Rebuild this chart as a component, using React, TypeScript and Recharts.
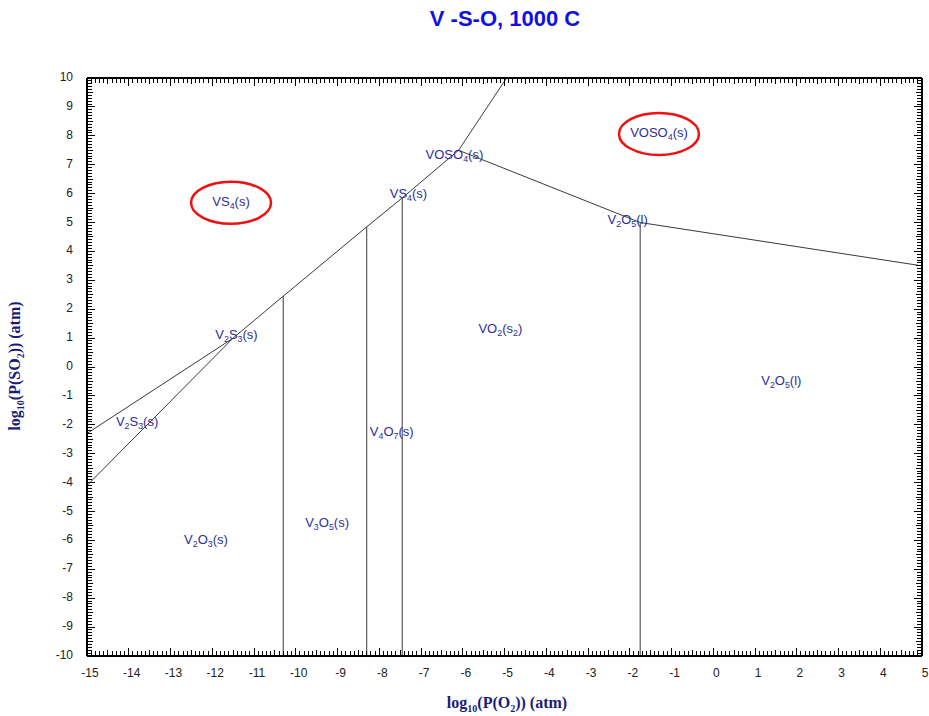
import { ComposedChart, Line, Scatter, XAxis, YAxis } from "recharts";

// axis labels
const xMajorTicks = [-15, -14, -13, -12, -11, -10, -9, -8, -7, -6, -5, -4, -3, -2, -1, 0, 1, 2, 3, 4, 5];
const yMajorTicks = [-10, -9, -8, -7, -6, -5, -4, -3, -2, -1, 0, 1, 2, 3, 4, 5, 6, 7, 8, 9, 10];

// minor ticks every 0.1 between the majors
const withMinor = (lo: number, hi: number) => {
  const out: number[] = [];
  for (let i = 0; i <= (hi - lo) * 10; i++) out.push(Math.round((lo + i * 0.1) * 10) / 10);
  return out;
};
const xTicks = withMinor(xMajorTicks[0], xMajorTicks[xMajorTicks.length - 1]);
const yTicks = withMinor(yMajorTicks[0], yMajorTicks[yMajorTicks.length - 1]);

// phase boundaries, log10 P(O2) vs log10 P(SO2)
const sulfideUpper = [{ x: -15, y: -2.3 }, { x: -11.5, y: 1.0 }];
const sulfideLower = [{ x: -15, y: -4.1 }, { x: -11.5, y: 1.0 }];
const sulfideOxide = [
  { x: -11.5, y: 1.0 },
  { x: -10.3, y: 2.45 },
  { x: -8.3, y: 4.85 },
  { x: -7.45, y: 5.85 },
  { x: -6.1, y: 7.5 },
  { x: -4.95, y: 10 },
];
const sulfateEdge = [
  { x: -6.1, y: 7.5 },
  { x: -1.75, y: 5.0 },
  { x: 5, y: 3.5 },
];
const v2o3Edge = [{ x: -10.3, y: -10 }, { x: -10.3, y: 2.45 }];
const v3o5Edge = [{ x: -8.3, y: -10 }, { x: -8.3, y: 4.85 }];
const v4o7Edge = [{ x: -7.45, y: -10 }, { x: -7.45, y: 5.85 }];
const vo2Edge = [{ x: -1.75, y: -10 }, { x: -1.75, y: 5.0 }];

const boundaries = [sulfideUpper, sulfideLower, sulfideOxide, sulfateEdge, v2o3Edge, v3o5Edge, v4o7Edge, vo2Edge];

// field labels (digits drawn as subscripts)
const regionLabels = [
  { x: -11.55, y: 5.72, text: "VS4(s)", circled: true },
  { x: -1.3, y: 8.1, text: "VOSO4(s)", circled: true },
  { x: -6.2, y: 7.35, text: "VOSO4(s)", circled: false },
  { x: -7.3, y: 6.0, text: "VS4(s)", circled: false },
  { x: -2.05, y: 5.1, text: "V2O5(l)", circled: false },
  { x: -11.42, y: 1.1, text: "V2S3(s)", circled: false },
  { x: -13.8, y: -1.9, text: "V2S3(s)", circled: false },
  { x: -5.1, y: 1.3, text: "VO2(s2)", circled: false },
  { x: 1.63, y: -0.5, text: "V2O5(l)", circled: false },
  { x: -7.7, y: -2.25, text: "V4O7(s)", circled: false },
  { x: -9.25, y: -5.4, text: "V3O5(s)", circled: false },
  { x: -12.15, y: -6.0, text: "V2O3(s)", circled: false },
];

const isMajor = (v: number) => Math.abs(v - Math.round(v)) < 1e-6;
const isHalf = (v: number) => Math.abs(v * 2 - Math.round(v * 2)) < 1e-6;
const tickLen = (v: number) => (isMajor(v) ? 8 : isHalf(v) ? 6 : 5);
const labelFont = "Arial, 'Liberation Sans', sans-serif";
const serifFont = "'Liberation Serif', 'Times New Roman', serif";

const BottomTick = (props: any) => {
  const { x, y, payload } = props;
  const v = payload.value;
  return (
    <g>
      <line x1={x} x2={x} y1={y} y2={y - tickLen(v)} stroke="#000" strokeWidth={1} shapeRendering="crispEdges" />
      {isMajor(v) && (
        <text x={x + 3} y={y + 21} textAnchor="middle" fontSize={12} fontFamily={labelFont} fill="#222">
          {Math.round(v)}
        </text>
      )}
    </g>
  );
};

const TopTick = (props: any) => {
  const { x, y, payload } = props;
  return (
    <line x1={x} x2={x} y1={y} y2={y + tickLen(payload.value)} stroke="#000" strokeWidth={1} shapeRendering="crispEdges" />
  );
};

const LeftTick = (props: any) => {
  const { x, y, payload } = props;
  const v = payload.value;
  return (
    <g>
      <line x1={x} x2={x + tickLen(v)} y1={y} y2={y} stroke="#000" strokeWidth={1} shapeRendering="crispEdges" />
      {isMajor(v) && (
        <text x={x - 14} y={y + 3} textAnchor="end" fontSize={12} fontFamily={labelFont} fill="#222">
          {Math.round(v)}
        </text>
      )}
    </g>
  );
};

const RightTick = (props: any) => {
  const { x, y, payload } = props;
  return (
    <line x1={x} x2={x - tickLen(payload.value)} y1={y} y2={y} stroke="#000" strokeWidth={1} shapeRendering="crispEdges" />
  );
};

const Formula = ({ text, x, y, size }: { text: string; x: number; y: number; size: number }) => {
  const parts = text.split(/(\d+)/).filter((p) => p.length > 0);
  let shifted = false;
  return (
    <text x={x} y={y} textAnchor="middle" fontFamily={labelFont} fontSize={size} fill="#2e2e98">
      {parts.map((p, i) => {
        const sub = /^\d+$/.test(p);
        const dy = sub ? (shifted ? 0 : 3) : shifted ? -3 : 0;
        shifted = sub;
        return (
          <tspan key={i} dy={dy} fontSize={sub ? size * 0.68 : size}>
            {p}
          </tspan>
        );
      })}
    </text>
  );
};

const RegionLabel = (props: any) => {
  const { cx, cy, payload } = props;
  return (
    <g>
      {payload.circled && <ellipse cx={cx} cy={cy + 1} rx={40} ry={21} fill="none" stroke="#ee1111" strokeWidth={2.5} />}
      <Formula text={payload.text} x={cx} y={cy + 4} size={13} />
    </g>
  );
};

const axisLine = { stroke: "#000", strokeWidth: 2 };

export default function App() {
  return (
    <div style={{ position: "absolute", left: 0, top: 0, width: 929, height: 716, background: "#fff" }}>
      <div
        style={{
          position: "absolute",
          top: 6,
          left: 505,
          transform: "translateX(-50%)",
          whiteSpace: "nowrap",
          fontFamily: labelFont,
          fontWeight: "bold",
          fontSize: 22,
          lineHeight: "26px",
          color: "#1010e6",
        }}
      >
        V -S-O, 1000 C
      </div>
      <ComposedChart width={929} height={716} margin={{ top: 77, right: 6, bottom: 30, left: 47 }}>
        <XAxis
          dataKey="x"
          type="number"
          domain={[-15, 5]}
          ticks={xTicks}
          interval={0}
          allowDataOverflow
          height={30}
          tickSize={0}
          tickMargin={0}
          tick={BottomTick}
          axisLine={axisLine}
        />
        <XAxis
          xAxisId="top"
          orientation="top"
          dataKey="x"
          type="number"
          domain={[-15, 5]}
          ticks={xTicks}
          interval={0}
          allowDataOverflow
          height={1}
          tickSize={0}
          tickMargin={0}
          tick={TopTick}
          axisLine={axisLine}
        />
        <YAxis
          type="number"
          domain={[-10, 10]}
          ticks={yTicks}
          interval={0}
          allowDataOverflow
          width={40}
          tickSize={0}
          tickMargin={0}
          tick={LeftTick}
          axisLine={axisLine}
        />
        <YAxis
          yAxisId="right"
          orientation="right"
          type="number"
          domain={[-10, 10]}
          ticks={yTicks}
          interval={0}
          allowDataOverflow
          width={1}
          tickSize={0}
          tickMargin={0}
          tick={RightTick}
          axisLine={axisLine}
        />
        {boundaries.map((seg, i) => (
          <Line
            key={i}
            data={seg}
            dataKey="y"
            type="linear"
            stroke="#3a3a3a"
            strokeWidth={1}
            dot={false}
            activeDot={false}
            isAnimationActive={false}
          />
        ))}
        <Scatter
          data={regionLabels}
          dataKey="y"
          xAxisId="top"
          yAxisId="right"
          shape={RegionLabel}
          isAnimationActive={false}
        />
      </ComposedChart>
      <div
        style={{
          position: "absolute",
          top: 693,
          left: 507,
          transform: "translateX(-50%)",
          whiteSpace: "nowrap",
          fontFamily: serifFont,
          fontWeight: "bold",
          fontSize: 16,
          lineHeight: "20px",
          color: "#1c1c78",
        }}
      >
        log<sub style={{ fontSize: 10 }}>10</sub>(P(O<sub style={{ fontSize: 10 }}>2</sub>)) (atm)
      </div>
      <div
        style={{
          position: "absolute",
          top: 366,
          left: 18,
          transform: "translate(-50%, -50%) rotate(-90deg)",
          whiteSpace: "nowrap",
          fontFamily: serifFont,
          fontWeight: "bold",
          fontSize: 16,
          lineHeight: "20px",
          color: "#1c1c78",
        }}
      >
        log<sub style={{ fontSize: 10 }}>10</sub>(P(SO<sub style={{ fontSize: 10 }}>2</sub>)) (atm)
      </div>
    </div>
  );
}
